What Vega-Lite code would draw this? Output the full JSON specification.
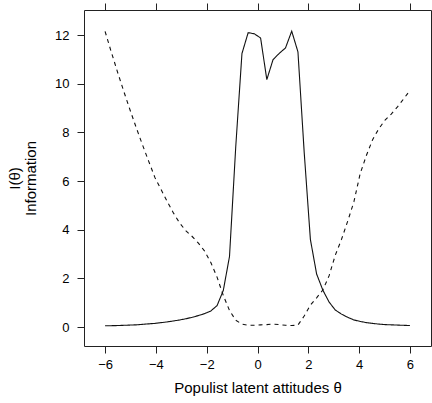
{
  "$schema": "https://vega.github.io/schema/vega-lite/v6.json",
  "width": 347,
  "height": 336,
  "autosize": {"type": "none"},
  "padding": {"left": 84, "top": 10, "right": 1, "bottom": 57},
  "config": {
    "view": {"stroke": "#222", "strokeWidth": 1},
    "font": "Liberation Sans",
    "axis": {
      "grid": false, "domain": false, "tickColor": "#222", "tickSize": 7, "tickWidth": 1,
      "labelColor": "#000", "labelFontSize": 13, "labelFont": "Liberation Sans",
      "titleColor": "#000", "titleFontSize": 15, "titleFontWeight": "normal", "titleFont": "Liberation Sans"
    }
  },
  "data": {"values": [
    {"theta": -6.000, "info": 0.05, "s": "a"}, {"theta": -5.755, "info": 0.055, "s": "a"}, {"theta": -5.510, "info": 0.06, "s": "a"},
    {"theta": -5.265, "info": 0.07, "s": "a"}, {"theta": -5.020, "info": 0.08, "s": "a"}, {"theta": -4.776, "info": 0.09, "s": "a"},
    {"theta": -4.531, "info": 0.11, "s": "a"}, {"theta": -4.286, "info": 0.13, "s": "a"}, {"theta": -4.041, "info": 0.15, "s": "a"},
    {"theta": -3.796, "info": 0.18, "s": "a"}, {"theta": -3.551, "info": 0.21, "s": "a"}, {"theta": -3.306, "info": 0.25, "s": "a"},
    {"theta": -3.061, "info": 0.29, "s": "a"}, {"theta": -2.816, "info": 0.34, "s": "a"}, {"theta": -2.571, "info": 0.40, "s": "a"},
    {"theta": -2.327, "info": 0.47, "s": "a"}, {"theta": -2.082, "info": 0.55, "s": "a"}, {"theta": -1.837, "info": 0.66, "s": "a"},
    {"theta": -1.592, "info": 0.88, "s": "a"}, {"theta": -1.347, "info": 1.5, "s": "a"}, {"theta": -1.102, "info": 2.9, "s": "a"},
    {"theta": -0.857, "info": 7.4, "s": "a"}, {"theta": -0.612, "info": 11.24, "s": "a"}, {"theta": -0.367, "info": 12.10, "s": "a"},
    {"theta": -0.122, "info": 12.05, "s": "a"}, {"theta": 0.122, "info": 11.88, "s": "a"}, {"theta": 0.367, "info": 10.17, "s": "a"},
    {"theta": 0.612, "info": 10.99, "s": "a"}, {"theta": 0.857, "info": 11.25, "s": "a"}, {"theta": 1.102, "info": 11.47, "s": "a"},
    {"theta": 1.347, "info": 12.16, "s": "a"}, {"theta": 1.592, "info": 11.31, "s": "a"}, {"theta": 1.837, "info": 7.2, "s": "a"},
    {"theta": 2.082, "info": 3.6, "s": "a"}, {"theta": 2.327, "info": 2.18, "s": "a"}, {"theta": 2.571, "info": 1.52, "s": "a"},
    {"theta": 2.816, "info": 1.03, "s": "a"}, {"theta": 3.061, "info": 0.70, "s": "a"}, {"theta": 3.306, "info": 0.53, "s": "a"},
    {"theta": 3.551, "info": 0.40, "s": "a"}, {"theta": 3.796, "info": 0.29, "s": "a"}, {"theta": 4.041, "info": 0.23, "s": "a"},
    {"theta": 4.286, "info": 0.18, "s": "a"}, {"theta": 4.531, "info": 0.15, "s": "a"}, {"theta": 4.776, "info": 0.12, "s": "a"},
    {"theta": 5.020, "info": 0.10, "s": "a"}, {"theta": 5.265, "info": 0.09, "s": "a"}, {"theta": 5.510, "info": 0.08, "s": "a"},
    {"theta": 5.755, "info": 0.07, "s": "a"}, {"theta": 6.000, "info": 0.06, "s": "a"},
    {"theta": -6.000, "info": 12.15, "s": "b"}, {"theta": -5.755, "info": 11.30, "s": "b"}, {"theta": -5.510, "info": 10.48, "s": "b"},
    {"theta": -5.265, "info": 9.69, "s": "b"}, {"theta": -5.020, "info": 8.93, "s": "b"}, {"theta": -4.776, "info": 8.20, "s": "b"},
    {"theta": -4.531, "info": 7.50, "s": "b"}, {"theta": -4.286, "info": 6.82, "s": "b"}, {"theta": -4.041, "info": 6.15, "s": "b"},
    {"theta": -3.796, "info": 5.65, "s": "b"}, {"theta": -3.551, "info": 5.15, "s": "b"}, {"theta": -3.306, "info": 4.68, "s": "b"},
    {"theta": -3.061, "info": 4.27, "s": "b"}, {"theta": -2.816, "info": 3.95, "s": "b"}, {"theta": -2.571, "info": 3.72, "s": "b"},
    {"theta": -2.327, "info": 3.45, "s": "b"}, {"theta": -2.082, "info": 3.12, "s": "b"}, {"theta": -1.837, "info": 2.65, "s": "b"},
    {"theta": -1.592, "info": 2.05, "s": "b"}, {"theta": -1.347, "info": 1.3, "s": "b"}, {"theta": -1.102, "info": 0.68, "s": "b"},
    {"theta": -0.857, "info": 0.28, "s": "b"}, {"theta": -0.612, "info": 0.12, "s": "b"}, {"theta": -0.367, "info": 0.07, "s": "b"},
    {"theta": -0.122, "info": 0.07, "s": "b"}, {"theta": 0.122, "info": 0.09, "s": "b"}, {"theta": 0.367, "info": 0.10, "s": "b"},
    {"theta": 0.612, "info": 0.12, "s": "b"}, {"theta": 0.857, "info": 0.10, "s": "b"}, {"theta": 1.102, "info": 0.07, "s": "b"},
    {"theta": 1.347, "info": 0.06, "s": "b"}, {"theta": 1.592, "info": 0.08, "s": "b"}, {"theta": 1.837, "info": 0.45, "s": "b"},
    {"theta": 2.082, "info": 0.9, "s": "b"}, {"theta": 2.327, "info": 1.2, "s": "b"}, {"theta": 2.571, "info": 1.52, "s": "b"},
    {"theta": 2.816, "info": 2.1, "s": "b"}, {"theta": 3.061, "info": 2.95, "s": "b"}, {"theta": 3.306, "info": 3.6, "s": "b"},
    {"theta": 3.551, "info": 4.35, "s": "b"}, {"theta": 3.796, "info": 5.15, "s": "b"}, {"theta": 4.041, "info": 6.3, "s": "b"},
    {"theta": 4.286, "info": 7.05, "s": "b"}, {"theta": 4.531, "info": 7.7, "s": "b"}, {"theta": 4.776, "info": 8.15, "s": "b"},
    {"theta": 5.020, "info": 8.5, "s": "b"}, {"theta": 5.265, "info": 8.75, "s": "b"}, {"theta": 5.510, "info": 9.05, "s": "b"},
    {"theta": 5.755, "info": 9.38, "s": "b"}, {"theta": 6.000, "info": 9.72, "s": "b"}
  ]},
  "layer": [
    {
      "mark": {"type": "line", "color": "#111", "strokeWidth": 1.1},
      "encoding": {
        "x": {"field": "theta", "type": "quantitative",
              "scale": {"domain": [-6.83, 6.83], "nice": false, "zero": false},
              "axis": {"orient": "bottom", "values": [-6, -4, -2, 0, 2, 4, 6], "labelPadding": 5,
                       "title": "Populist latent attitudes θ", "titlePadding": 9}},
        "y": {"field": "info", "type": "quantitative",
              "scale": {"domain": [-0.78, 13.03], "nice": false, "zero": false},
              "axis": {"values": [0, 2, 4, 6, 8, 10, 12], "labelPadding": 8,
                       "title": ["I(θ)", "Information"], "titlePadding": 16, "titleLineHeight": 16}},
        "strokeDash": {"field": "s", "type": "nominal",
                       "scale": {"domain": ["a", "b"], "range": [[1, 0], [4, 4]]}, "legend": null},
        "order": {"field": "theta", "type": "quantitative"}
      }
    },
    {
      "mark": {"type": "line", "opacity": 0},
      "encoding": {
        "x": {"field": "theta", "type": "quantitative",
              "axis": {"orient": "top", "values": [-6, -4, -2, 0, 2, 4, 6], "labels": false, "title": null}},
        "y": {"field": "info", "type": "quantitative"},
        "detail": {"field": "s"}
      }
    }
  ],
  "resolve": {"axis": {"x": "independent"}}
}
